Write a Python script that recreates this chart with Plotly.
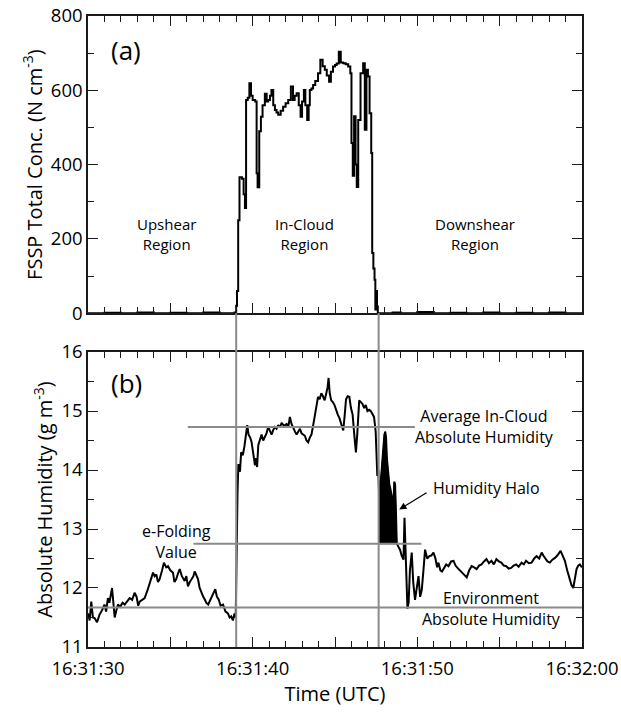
import plotly.graph_objects as go

# ---- data (time in seconds after 16:31:30 UTC) ----
fssp_t = [0, 1, 2, 3, 4, 5, 6, 7, 8, 8.9, 9.0, 9.05, 9.12, 9.2, 9.35, 9.45, 9.53, 9.6, 9.7, 9.8,
          9.9, 10.0, 10.15, 10.24, 10.3, 10.4, 10.5, 10.6, 10.74, 10.85, 10.94, 11.05, 11.14, 11.25,
          11.35, 11.45, 11.55, 11.7, 11.85, 12.0, 12.16, 12.32, 12.45, 12.55, 12.67, 12.8, 12.91,
          13.0, 13.11, 13.2, 13.31, 13.4, 13.47, 13.57, 13.67, 13.8, 13.97, 14.11, 14.25, 14.38,
          14.5, 14.64, 14.75, 14.88, 15.0, 15.1, 15.23, 15.35, 15.5, 15.65, 15.8, 15.93, 16.0, 16.08,
          16.16, 16.25, 16.32, 16.41, 16.55, 16.71, 16.81, 16.91, 17.0, 17.1, 17.2, 17.26, 17.33,
          17.4, 17.45, 17.5, 17.55, 17.6, 18.5, 19, 20, 21, 22, 23, 24, 25, 26, 27, 28, 29, 30]
fssp_v = [0, 1, 0, 2, 0, 1, 0, 2, 0, 2, 20, 60, 250, 366, 362, 320, 283, 574, 580, 619,
          585, 574, 570, 377, 339, 490, 529, 560, 591, 570, 574, 585, 601, 560,
          547, 540, 534, 545, 556, 565, 574, 610, 574, 585, 592, 560, 529,
          570, 601, 560, 520, 560, 601, 605, 614, 625, 646, 682, 665, 655,
          640, 623, 650, 664, 668, 672, 704, 675, 673, 670, 664, 646, 458, 370,
          530, 400, 340, 520, 646, 673, 494, 655, 637, 538, 431, 162, 120,
          90, 10, 60, 18, 0, 2, 0, 3, 0, 1, 0, 2, 0, 1, 0, 2, 0, 1]

hum_t = [0.0, 0.1, 0.2, 0.3, 0.4, 0.55, 0.7, 0.85, 1.0, 1.1, 1.21, 1.3, 1.46, 1.55, 1.62, 1.72,
         1.82, 1.95, 2.1, 2.23, 2.38, 2.53, 2.68, 2.83, 2.95, 3.05, 3.14, 3.3, 3.44, 3.6, 3.74,
         3.85, 3.95, 4.05, 4.15, 4.25, 4.35, 4.5, 4.61, 4.75, 4.86, 5.0, 5.16, 5.25, 5.36, 5.47,
         5.57, 5.7, 5.87, 5.97, 6.07, 6.18, 6.28, 6.4, 6.48, 6.58, 6.68, 6.78, 6.88, 7.0, 7.1,
         7.18, 7.3, 7.4, 7.49, 7.6, 7.73, 7.83, 7.93, 8.05, 8.2, 8.35, 8.5, 8.6, 8.7, 8.8, 8.9,
         8.97, 9.03, 9.08, 9.13, 9.23, 9.3, 9.4, 9.5, 9.58, 9.67, 9.75, 9.85, 9.93, 10.03, 10.14,
         10.2, 10.27, 10.34, 10.44, 10.54, 10.64, 10.74, 10.84, 10.94, 11.05, 11.15, 11.25, 11.35,
         11.45, 11.55, 11.65, 11.76, 11.9, 12.06, 12.16, 12.26, 12.36, 12.47, 12.57, 12.67, 12.77,
         12.87, 12.97, 13.07, 13.17, 13.27, 13.37, 13.47, 13.57, 13.67, 13.77, 13.87, 13.97, 14.07,
         14.17, 14.27, 14.37, 14.47, 14.55, 14.61, 14.68, 14.77, 14.87, 14.97, 15.07, 15.17, 15.27,
         15.37, 15.45, 15.5, 15.58, 15.67, 15.77, 15.87, 15.97, 16.07, 16.17, 16.22, 16.27, 16.35,
         16.47, 16.57, 16.67, 16.77, 16.87, 16.97, 17.07, 17.17, 17.27, 17.37, 17.47, 17.57, 17.63,
         18.85, 18.95, 19.05, 19.16, 19.22, 19.3, 19.35, 19.4, 19.47, 19.55, 19.66, 19.75, 19.86,
         19.95, 20.07, 20.17, 20.27, 20.37, 20.47, 20.6, 20.73, 20.85, 20.98, 21.1, 21.2, 21.28,
         21.4, 21.5, 21.59, 21.75, 21.89, 22.05, 22.2, 22.32, 22.44, 22.57, 22.7, 22.85, 23.0,
         23.15, 23.3, 23.45, 23.6, 23.75, 23.9, 24.05, 24.2, 24.35, 24.5, 24.65, 24.8, 24.95, 25.1,
         25.25, 25.4, 25.55, 25.7, 25.85, 26.0, 26.15, 26.33, 26.47, 26.6, 26.77, 26.94, 27.1,
         27.24, 27.4, 27.55, 27.65, 27.75, 27.9, 28.05, 28.2, 28.36, 28.5, 28.7, 28.83, 28.96,
         29.1, 29.26, 29.36, 29.47, 29.57, 29.67, 29.77, 29.87, 30.0]
hum_v = [11.57, 11.45, 11.77, 11.5, 11.49, 11.42, 11.55, 11.62, 11.72, 11.6, 11.83, 11.75, 12.0,
         11.7, 11.5, 11.62, 11.72, 11.68, 11.75, 11.72, 11.78, 11.83, 11.8, 11.92, 11.85, 11.7,
         11.77, 11.8, 11.83, 11.95, 12.06, 12.15, 12.26, 12.2, 12.23, 12.1, 12.15, 12.3, 12.43,
         12.35, 12.37, 12.3, 12.26, 12.1, 12.15, 12.25, 12.32, 12.2, 12.12, 12.2, 12.03, 12.1,
         12.15, 12.2, 12.28, 12.2, 12.15, 12.0, 11.92, 11.85, 11.8, 11.75, 11.72, 11.78, 11.81,
         11.9, 11.98, 11.85, 11.81, 11.7, 11.72, 11.6, 11.57, 11.5, 11.52, 11.45, 11.57, 11.5,
         12.9, 13.6, 14.1, 13.97, 14.3, 14.25, 14.4, 14.55, 14.76, 14.6, 14.55, 14.48, 14.3, 14.08,
         14.2, 14.05, 14.42, 14.5, 14.6, 14.5, 14.55, 14.62, 14.73, 14.65, 14.6, 14.68, 14.73,
         14.7, 14.76, 14.72, 14.8, 14.75, 14.78, 14.72, 14.9, 14.78, 14.7, 14.65, 14.6, 14.66,
         14.7, 14.62, 14.6, 14.58, 14.5, 14.47, 14.55, 14.6, 14.75, 14.9, 15.1, 15.24, 15.2,
         15.3, 15.25, 15.18, 15.3, 15.4, 15.56, 15.3, 15.18, 15.15, 15.1, 15.0, 14.94, 14.88,
         14.8, 14.72, 14.67, 14.9, 15.2, 15.25, 15.24, 15.05, 14.94, 14.6, 14.45, 14.3, 14.6,
         15.18, 15.15, 15.12, 15.05, 15.1, 15.0, 15.02, 15.0, 14.95, 14.9, 14.65, 13.9, 14.0,
         12.7, 12.65, 12.55, 12.48, 13.19, 12.4, 12.0, 11.65, 11.75, 12.3, 12.6, 12.1, 11.8,
         12.0, 12.2, 11.85, 11.97, 12.3, 12.65, 12.5, 12.54, 12.55, 12.6, 12.5, 12.35, 12.43,
         12.3, 12.28, 12.32, 12.4, 12.37, 12.45, 12.46, 12.38, 12.34, 12.3, 12.26, 12.22, 12.18,
         12.3, 12.37, 12.35, 12.32, 12.38, 12.4, 12.45, 12.49, 12.42, 12.46, 12.4, 12.49, 12.45, 12.43,
         12.38, 12.37, 12.33, 12.34, 12.38, 12.4, 12.36, 12.43, 12.4, 12.46, 12.42, 12.43, 12.5,
         12.54, 12.5, 12.6, 12.55, 12.51, 12.45, 12.43, 12.48, 12.51, 12.55, 12.63, 12.55, 12.46,
         12.3, 12.15, 12.05, 12.0, 12.2, 12.32, 12.38, 12.4, 12.35]

# humidity halo (upper envelope, filled down to the e-folding value)
halo_t = [17.65, 17.7, 17.75, 17.8, 17.85, 17.9, 17.95, 18.0, 18.05, 18.1, 18.15, 18.2, 18.25,
          18.3, 18.35, 18.4, 18.45, 18.5, 18.55, 18.6, 18.65, 18.7, 18.75]
halo_v = [13.6, 13.4, 13.7, 13.9, 14.1, 14.3, 14.45, 14.6, 14.65, 14.55, 14.2, 14.0, 13.9,
          13.75, 13.7, 13.6, 13.55, 13.5, 13.4, 13.8, 13.75, 13.3, 12.76]

cloud_edges = [9.0, 17.65]          # entry / exit times
avg_incloud = 14.73
efold_value = 12.75
env_value = 11.67
avg_span = [6.06, 19.85]
efold_span = [6.4, 20.25]

tick_vals = [0, 5, 10, 15, 20, 25, 30]
tick_text = ["16:31:30", "", "16:31:40", "", "16:31:50", "", "16:32:00"]

FONT = "Open Sans"
LINE = "#1a1a1a"
GRAY = "#8a8a8a"

pts = sorted(zip(hum_t + halo_t, hum_v + halo_v))
line_t = [p[0] for p in pts]
line_v = [p[1] for p in pts]

fig = go.Figure()
fig.add_trace(go.Scatter(x=fssp_t, y=fssp_v, mode="lines", line=dict(color="black", width=2, shape="hv"),
                         xaxis="x", yaxis="y", showlegend=False))
fig.add_trace(go.Scatter(x=halo_t + halo_t[::-1], y=halo_v + [efold_value] * len(halo_t),
                         mode="lines", fill="toself", fillcolor="black",
                         line=dict(color="black", width=1), xaxis="x2", yaxis="y2", showlegend=False))
fig.add_trace(go.Scatter(x=line_t, y=line_v, mode="lines", line=dict(color="black", width=2),
                         xaxis="x2", yaxis="y2", showlegend=False))

axis_common = dict(showgrid=False, zeroline=False, showline=True, linecolor=LINE, linewidth=1.5,
                   mirror="ticks", ticks="inside", tickcolor=LINE, tickwidth=1.2, automargin=False,
                   ticklabeloverflow="allow",
                   tickfont=dict(family=FONT, size=18.5, color="black"))

top_dom = [0.529, 1.0]
bot_dom = [0.0, 0.4675]

fig.update_layout(
    width=621, height=713,
    margin=dict(l=88, r=39, t=16, b=66),
    plot_bgcolor="white", paper_bgcolor="white",
    font=dict(family=FONT, color="black"),
    xaxis=dict(domain=[0, 1], anchor="y", range=[0, 30], tickvals=tick_vals, showticklabels=False,
               ticklen=10, minor=dict(dtick=1, tick0=0, ticklen=6, ticks="inside", tickcolor=LINE),
               **axis_common),
    yaxis=dict(domain=top_dom, anchor="x", range=[0, 800], dtick=200, ticklen=10,
               minor=dict(dtick=100, ticklen=6, ticks="inside", tickcolor=LINE),
               title=dict(text="FSSP Total Conc. (N cm<sup>-3</sup>)", font=dict(family=FONT, size=20),
                          standoff=3),
               **axis_common),
    xaxis2=dict(domain=[0, 1], anchor="y2", range=[0, 30], tickvals=tick_vals, ticktext=tick_text,
                ticklen=10, ticklabelstandoff=4,
                minor=dict(dtick=1, tick0=0, ticklen=6, ticks="inside", tickcolor=LINE),
                title=dict(text="Time (UTC)", font=dict(family=FONT, size=20), standoff=6),
                **axis_common),
    yaxis2=dict(domain=bot_dom, anchor="x2", range=[11, 16], dtick=1, ticklen=10,
                minor=dict(dtick=0.5, ticklen=6, ticks="inside", tickcolor=LINE),
                title=dict(text="Absolute Humidity (g m<sup>-3</sup>)", font=dict(family=FONT, size=20),
                           standoff=3),
                **axis_common),
)

# vertical cloud-edge lines spanning from top panel bottom to bottom panel bottom
for xe in cloud_edges:
    fig.add_shape(type="line", xref="x2", yref="paper", x0=xe, x1=xe, y0=bot_dom[0], y1=top_dom[0],
                  line=dict(color=GRAY, width=2), layer="above")
fig.add_shape(type="line", xref="x2", yref="y2", x0=avg_span[0], x1=avg_span[1], y0=avg_incloud, y1=avg_incloud,
              line=dict(color=GRAY, width=2), layer="above")
fig.add_shape(type="line", xref="x2", yref="y2", x0=efold_span[0], x1=efold_span[1], y0=efold_value, y1=efold_value,
              line=dict(color=GRAY, width=2), layer="above")
fig.add_shape(type="line", xref="x2", yref="y2", x0=0, x1=30, y0=env_value, y1=env_value,
              line=dict(color=GRAY, width=2), layer="above")

ann_font = dict(family=FONT, size=15, color="black")
ann_font_b = dict(family=FONT, size=16, color="black")
anns = [
    dict(x=2.3, y=708, xref="x", yref="y", text="(a)", font=dict(family=FONT, size=26)),
    dict(x=4.76, y=213, xref="x", yref="y", text="Upshear<br>Region", font=ann_font),
    dict(x=13.17, y=213, xref="x", yref="y", text="In-Cloud<br>Region", font=ann_font),
    dict(x=23.5, y=213, xref="x", yref="y", text="Downshear<br>Region", font=ann_font),
    dict(x=2.36, y=15.47, xref="x2", yref="y2", text="(b)", font=dict(family=FONT, size=26)),
    dict(x=24.1, y=14.73, xref="x2", yref="y2", text="Average In-Cloud<br>Absolute Humidity", font=ann_font_b),
    dict(x=24.2, y=13.69, xref="x2", yref="y2", text="Humidity Halo", font=ann_font_b),
    dict(x=5.36, y=12.78, xref="x2", yref="y2", text="e-Folding<br>Value", font=ann_font_b),
    dict(x=24.5, y=11.66, xref="x2", yref="y2", text="Environment<br>Absolute Humidity", font=ann_font_b),
]
for a in anns:
    fig.add_annotation(showarrow=False, **a)
fig.add_annotation(x=18.9, y=13.33, xref="x2", yref="y2", ax=20.65, ay=13.63, axref="x2", ayref="y2",
                   text="", showarrow=True, arrowhead=2, arrowsize=1.2, arrowwidth=1.2, arrowcolor="black")

fig.write_html("out.html", config={"displayModeBar": False},
               post_script="document.body.style.margin='0';document.body.style.overflow='hidden';")
